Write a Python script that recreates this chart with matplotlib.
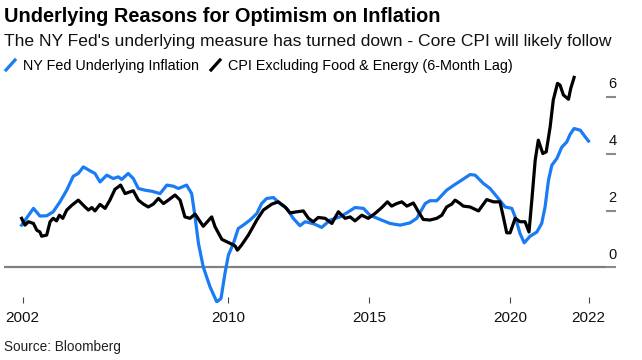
import matplotlib
matplotlib.use("Agg")
import matplotlib.pyplot as plt
from matplotlib.lines import Line2D

plt.rcParams['font.family'] = ['Liberation Sans', 'DejaVu Sans']

# ---------------- data (decimal year, value) ----------------
nyfed_t = [2002.67, 2003.09, 2003.32, 2003.56, 2003.79, 2004.03, 2004.27, 2004.50, 2004.68,
           2004.86, 2005.10, 2005.27, 2005.45, 2005.69, 2005.92, 2006.10, 2006.22, 2006.45,
           2006.63, 2006.81, 2007.05, 2007.30, 2007.58, 2007.82, 2008.05, 2008.23, 2008.52,
           2008.70, 2008.82, 2008.94, 2009.11, 2009.35, 2009.59, 2009.74, 2009.88, 2010.00,
           2010.18, 2010.35, 2010.53, 2010.77, 2011.01, 2011.18, 2011.36, 2011.60, 2011.83,
           2012.07, 2012.30, 2012.54, 2012.72, 2012.90, 2013.07, 2013.31, 2013.61, 2013.96,
           2014.26, 2014.49, 2014.79, 2015.02, 2015.38, 2015.73, 2016.09, 2016.44, 2016.68,
           2016.98, 2017.15, 2017.39, 2017.74, 2018.00, 2018.22, 2018.57, 2018.75, 2019.04,
           2019.28, 2019.57, 2019.81, 2020.05, 2020.17, 2020.34, 2020.49, 2020.70, 2020.94,
           2021.11, 2021.23, 2021.35, 2021.47, 2021.65, 2021.82, 2022.00, 2022.12, 2022.26,
           2022.48, 2022.65, 2022.77]
nyfed_v = [1.49, 2.08, 1.81, 1.82, 1.96, 2.31, 2.72, 3.21, 3.31,
           3.54, 3.40, 3.31, 3.01, 3.25, 3.13, 3.19, 3.10, 3.31,
           3.13, 2.78, 2.72, 2.68, 2.60, 2.90, 2.86, 2.78, 2.90,
           2.60, 1.78, 0.85, 0.02, -0.68, -1.21, -1.09, -0.21, 0.43,
           0.85, 1.37, 1.49, 1.67, 1.90, 2.25, 2.43, 2.46, 2.25,
           2.08, 1.73, 1.47, 1.61, 1.57, 1.52, 1.41, 1.67, 1.78,
           1.96, 2.11, 2.08, 1.84, 1.69, 1.55, 1.49, 1.57, 1.73,
           2.25, 2.35, 2.35, 2.72, 2.90, 3.04, 3.27, 3.25, 2.96,
           2.78, 2.43, 2.13, 2.08, 1.78, 1.20, 0.87, 1.10, 1.25,
           1.55, 2.13, 3.07, 3.60, 3.84, 4.23, 4.42, 4.69, 4.89,
           4.83, 4.60, 4.45]

core_t = [2002.67, 2002.79, 2002.91, 2003.09, 2003.21, 2003.32, 2003.38, 2003.56, 2003.68,
          2003.79, 2003.91, 2004.01, 2004.13, 2004.27, 2004.45, 2004.68, 2004.92, 2005.04,
          2005.16, 2005.27, 2005.45, 2005.63, 2005.80, 2005.98, 2006.18, 2006.34, 2006.51,
          2006.63, 2006.81, 2006.99, 2007.16, 2007.34, 2007.52, 2007.70, 2007.87, 2008.11,
          2008.29, 2008.46, 2008.64, 2008.82, 2009.11, 2009.41, 2009.53, 2009.77, 2010.06,
          2010.24, 2010.32, 2010.47, 2010.71, 2011.01, 2011.24, 2011.54, 2011.77, 2012.01,
          2012.19, 2012.43, 2012.66, 2012.84, 2013.01, 2013.19, 2013.43, 2013.67, 2013.90,
          2014.14, 2014.32, 2014.49, 2014.73, 2014.96, 2015.20, 2015.44, 2015.64, 2015.79,
          2015.97, 2016.15, 2016.33, 2016.56, 2016.74, 2016.91, 2017.15, 2017.39, 2017.57,
          2017.74, 2017.92, 2018.04, 2018.22, 2018.33, 2018.57, 2018.87, 2019.16, 2019.40,
          2019.63, 2019.75, 2019.87, 2019.99, 2020.17, 2020.34, 2020.52, 2020.66, 2020.76,
          2020.88, 2020.99, 2021.15, 2021.27, 2021.41, 2021.52, 2021.67, 2021.76, 2021.88,
          2022.06, 2022.14, 2022.26]
core_v = [1.73, 1.49, 1.61, 1.55, 1.31, 1.25, 1.10, 1.14, 1.61,
          1.73, 1.64, 1.84, 1.73, 2.02, 2.19, 2.37, 2.13, 2.02,
          2.11, 1.99, 2.22, 2.08, 2.37, 2.75, 2.90, 2.60, 2.66,
          2.70, 2.37, 2.23, 2.13, 2.23, 2.43, 2.25, 2.37, 2.55,
          2.37, 1.78, 1.73, 1.88, 1.45, 1.78, 1.43, 0.99, 0.85,
          0.76, 0.61, 0.79, 1.14, 1.67, 2.02, 2.23, 2.31, 2.13,
          1.92, 1.96, 1.99, 1.73, 1.61, 1.76, 1.73, 1.55, 1.96,
          1.73, 1.78, 1.64, 1.84, 1.73, 1.90, 2.11, 2.31, 2.16,
          2.25, 2.31, 2.16, 2.27, 1.96, 1.69, 1.67, 1.73, 1.84,
          2.13, 2.23, 2.37, 2.25, 2.16, 2.13, 1.99, 2.39, 2.31,
          2.31, 1.78, 1.22, 1.22, 1.73, 1.61, 1.61, 1.25, 2.37,
          3.78, 4.48, 4.01, 4.07, 4.95, 5.89, 6.48, 6.42, 6.07,
          5.92, 6.30, 6.69]

xtick_pos = [2002.71, 2010, 2015, 2020, 2022.77]
xtick_labels = ['2002', '2010', '2015', '2020', '2022']
ytick_vals = [0, 2, 4, 6]

title = "Underlying Reasons for Optimism on Inflation"
subtitle = "The NY Fed's underlying measure has turned down - Core CPI will likely follow"
legend_labels = ["NY Fed Underlying Inflation", "CPI Excluding Food & Energy (6-Month Lag)"]
source = "Source: Bloomberg"

BLUE = '#1a7cf5'
BLACK = '#000000'

W, H = 642, 360
fig = plt.figure(figsize=(W / 100, H / 100), dpi=100)

def fx(px):
    return px / W

def fy(py):
    return 1 - py / H

ax = fig.add_axes([fx(4), fy(303), fx(606) - fx(4), fy(70) - fy(303)])
ax.set_xlim(2002.046, 2023.39)
ax.set_ylim(-1.25, 6.95)

ax.axhline(0, color='#808080', lw=1.6, zorder=1)
ax.plot(nyfed_t, nyfed_v, color=BLUE, lw=2.3, solid_joinstyle='round', zorder=3)
ax.plot(core_t, core_v, color=BLACK, lw=2.3, solid_joinstyle='round', zorder=4)

for s in ax.spines.values():
    s.set_visible(False)

ax.set_xticks(xtick_pos)
ax.set_xticklabels(xtick_labels)
ax.tick_params(axis='x', direction='in', length=4, width=0.8, color='#444444',
               labelsize=11, pad=6, labelcolor='#111111')

ax.set_yticks(ytick_vals)
ax.set_yticklabels([])
ax.yaxis.tick_right()
ax.tick_params(axis='y', direction='out', length=7, width=1.5, color='#8a8a8a', pad=0)
ytrans = ax.get_yaxis_transform()
for v in ytick_vals:
    ax.annotate(str(v), xy=(1.0, v), xycoords=ytrans, xytext=(7.5, 4.3),
                textcoords='offset points', ha='right', va='bottom',
                fontsize=10.5, color='#111111')

# title, subtitle
fig.text(fx(4), fy(21.7), title, fontsize=14.4, fontweight='bold', va='baseline', ha='left')
fig.text(fx(4), fy(46), subtitle, fontsize=12.6, va='baseline', ha='left', color='#111111')

# legend
fig.add_artist(Line2D([fx(6), fx(15)], [fy(70), fy(60)], color=BLUE, lw=2.3))
fig.text(fx(23), fy(70), legend_labels[0], fontsize=10.35, va='baseline', ha='left')
fig.add_artist(Line2D([fx(211), fx(220)], [fy(70), fy(60)], color=BLACK, lw=2.3))
fig.text(fx(228), fy(70), legend_labels[1], fontsize=10.35, va='baseline', ha='left')

fig.text(fx(4), fy(351), source, fontsize=9.8, va='baseline', ha='left', color='#222222')

fig.savefig('out.png', dpi=100)
